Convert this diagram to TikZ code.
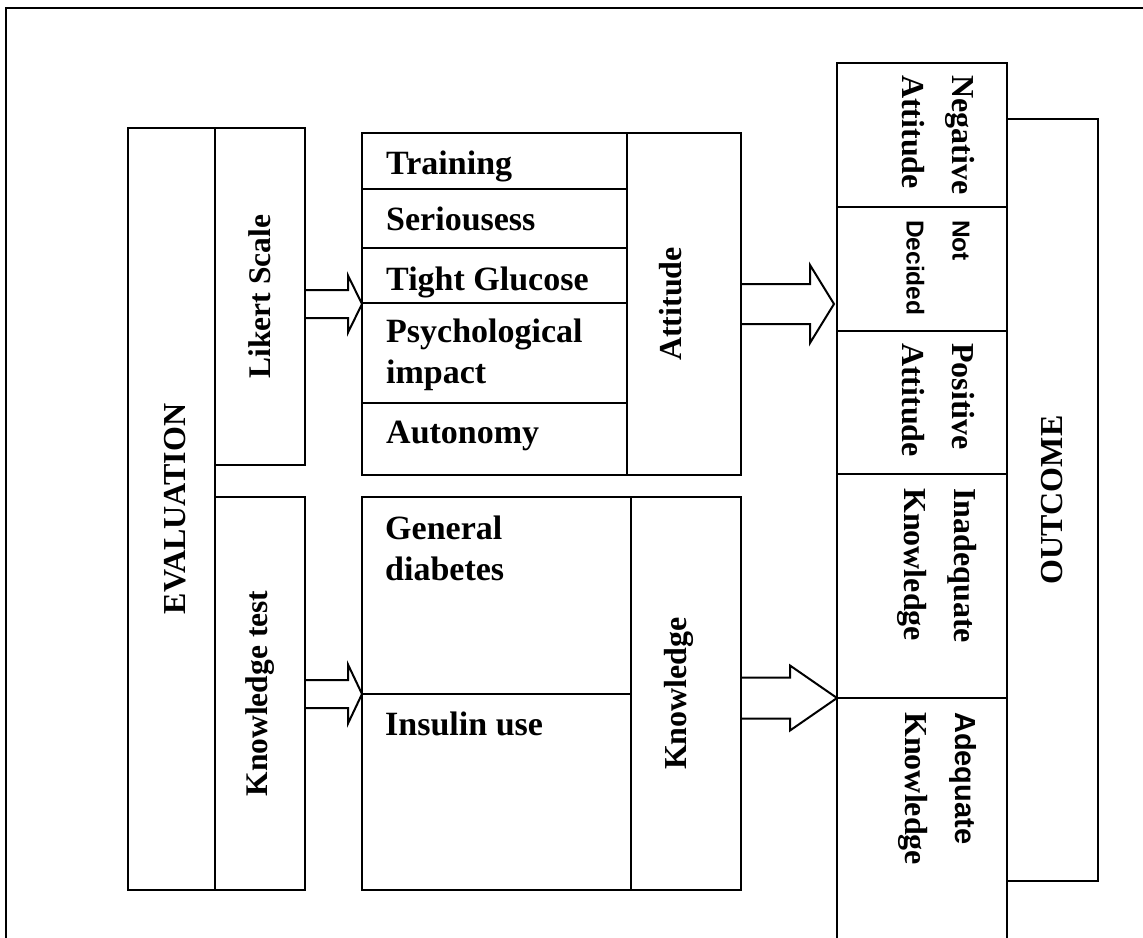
\documentclass[tikz,border=0pt]{standalone}
\usepackage{fontspec}
\setmainfont{Liberation Serif Bold}
\newfontfamily\arialfont{Liberation Sans Bold}
\usetikzlibrary{calc}

% hollow block arrow: start, tip, shaft half width, head length, head half width
\newcommand{\hollowarrow}[5]{%
  \draw[line width=2pt] ($(#1)+(0,#3)$) -- ($(#2)+(-#4,#3)$) -- ($(#2)+(-#4,#5)$) -- (#2)
    -- ($(#2)+(-#4,-#5)$) -- ($(#2)+(-#4,-#3)$) -- ($(#1)+(0,-#3)$);}

\begin{document}
\begin{tikzpicture}[x=1pt,y=-1pt,
    cell/.style={draw,line width=2.8pt,inner sep=0pt,outer sep=0pt,anchor=north west},
    sidetext/.style={rotate=90,inner sep=0pt,font=\fontsize{32}{38}\selectfont},
    rowtext/.style={anchor=base west,inner sep=0pt,align=left,font=\fontsize{34}{41}\selectfont},
    outtext/.style={rotate=-90,anchor=west,inner sep=0pt,align=left,font=\fontsize{32}{50}\selectfont}]
  \fill[white] (0,0) rectangle (1143,937);
  \useasboundingbox (0,0) rectangle (1143,937);
  \draw[line width=2.8pt] (1150,8) -- (6,8) -- (6,945);

  % evaluation
  \node[cell,minimum width=87,minimum height=762] (eval) at (128,128) {};
  \node[cell,minimum width=90,minimum height=337] (likert) at (215,128) {};
  \node[cell,minimum width=90,minimum height=393] (ktest) at (215,497) {};
  \node[sidetext] (evaltxt) at ([xshift=3.5pt]eval.center) {EVALUATION};
  \node[sidetext,font=\fontsize{31.5}{38}\selectfont] (likerttxt) at (likert.center) {Likert Scale};
  \node[sidetext,font=\fontsize{31.5}{38}\selectfont] (ktesttxt) at (ktest.center) {Knowledge test};

  % attitude
  \node[cell,minimum width=265,minimum height=56] (training) at (362,133) {};
  \node[cell,minimum width=265,minimum height=59] (serious) at (362,189) {};
  \node[cell,minimum width=265,minimum height=55] (tight) at (362,248) {};
  \node[cell,minimum width=265,minimum height=100] (psych) at (362,303) {};
  \node[cell,minimum width=265,minimum height=72] (auton) at (362,403) {};
  \node[cell,minimum width=114,minimum height=342] (attlbl) at (627,133) {};
  \node[rowtext] (traintxt) at (386,174) {Training};
  \node[rowtext] (serioustxt) at (386,230) {Seriousess};
  \node[rowtext] (tighttxt) at (386,290) {Tight Glucose};
  \node[rowtext] (psychtxt) at (386,383) {Psychological\\impact};
  \node[rowtext] (autontxt) at (386,443) {Autonomy};
  \node[sidetext] (atttxt) at ([xshift=-13pt]attlbl.center) {Attitude};

  % knowledge
  \node[cell,minimum width=269,minimum height=197] (general) at (362,497) {};
  \node[cell,minimum width=269,minimum height=196] (insulin) at (362,694) {};
  \node[cell,minimum width=110,minimum height=393] (klbl) at (631,497) {};
  \node[rowtext] (gentxt) at (385,580) {General\\diabetes};
  \node[rowtext] (insultxt) at (385,735) {Insulin use};
  \node[sidetext] (ktxt) at ([xshift=-7pt]klbl.center) {Knowledge};

  % outcome
  \node[cell,minimum width=170,minimum height=144] (neg) at (837,63) {};
  \node[cell,minimum width=170,minimum height=124] (notdec) at (837,207) {};
  \node[cell,minimum width=170,minimum height=143] (pos) at (837,331) {};
  \node[cell,minimum width=170,minimum height=224] (inadeq) at (837,474) {};
  \node[cell,draw=none,minimum width=170,minimum height=250] (adeq) at (837,698) {};
  \draw[line width=2.8pt] (adeq.north west) -- (adeq.south west) (adeq.north east) -- (adeq.south east);
  \node[cell,minimum width=91,minimum height=762] (outcome) at (1007,119) {};
  \node[outtext] (negtxt) at (938,75) {Negative\\Attitude};
  \node[outtext,font=\arialfont\fontsize{24.5}{46}\selectfont] (notdectxt) at (938,220) {Not\\Decided};
  \node[outtext] (postxt) at (938,343) {Positive\\Attitude};
  \node[outtext] (inadeqtxt) at (937,488) {Inadequate\\Knowledge};
  \node[outtext] (adeqtxt) at (937,712) {{\arialfont\fontsize{29}{50}\selectfont Adequate}\\Knowledge};
  \node[sidetext] (outtxt) at (outcome.center) {OUTCOME};

  % block arrows
  \coordinate (a1s) at (likert.east |- attlbl.west);
  \coordinate (a1t) at (training.west |- attlbl.west);
  \coordinate (a2s) at (attlbl.east);
  \coordinate (a2t) at ($(notdec.west |- attlbl.east)+(-3,0)$);
  \coordinate (a3s) at (klbl.east |- inadeq.south west);
  \coordinate (a3t) at (inadeq.south west);
  \coordinate (a4s) at (ktest.east |- general.south west);
  \coordinate (a4t) at (general.south west);
  \hollowarrow{a1s}{a1t}{14}{14}{28.5}
  \hollowarrow{a2s}{a2t}{20}{24}{39}
  \hollowarrow{a3s}{a3t}{20.5}{47}{32.5}
  \hollowarrow{a4s}{a4t}{14}{14}{29.5}
\end{tikzpicture}
\end{document}
